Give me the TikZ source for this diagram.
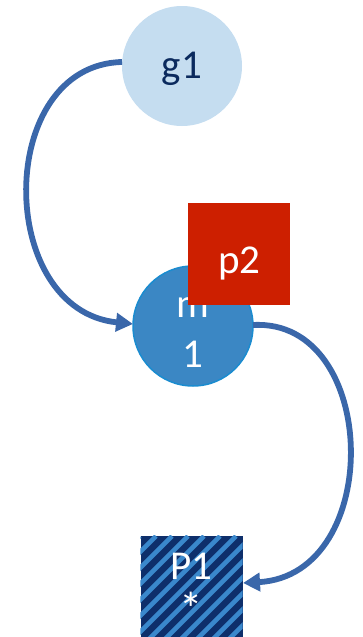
\documentclass[tikz,border=0pt]{standalone}
\usepackage{fontspec}
\setmainfont{Carlito}
\usetikzlibrary{arrows.meta}
\definecolor{linkblue}{HTML}{3A67AA}
\definecolor{paleblue}{HTML}{C5DDF0}
\definecolor{navytext}{HTML}{0B2A5E}
\definecolor{midblue}{HTML}{3B87C4}
\definecolor{rimblue}{HTML}{1A8CD0}
\definecolor{redbox}{HTML}{CD1F00}
\definecolor{darknavy}{HTML}{0E2F6B}
\definecolor{stripeblue}{HTML}{3A88CC}
\begin{document}
\begin{tikzpicture}[x=1pt,y=-1pt,
  link/.style={draw=linkblue,line width=5.8pt,-{Triangle[length=17pt,width=18pt]}},
  bigtext/.style={font=\fontsize{41}{50}\selectfont,align=center,inner sep=0pt,anchor=base},
  disc/.style={circle,minimum size=120pt,inner sep=0pt},
  tile/.style={rectangle,minimum size=102pt,inner sep=0pt}]
\useasboundingbox (0,0) rectangle (362,637);
% g1
\node[disc,fill=paleblue] (g1) at (182,66) {};
\node[bigtext,text=navytext] (g1text) at (182,78) {g1};
% m1 (anchored on the baseline of its last line)
\node[disc,fill=midblue,draw=rimblue,line width=1.5pt] (m1) at (193,326) {};
\node[bigtext,text=white] (m1text) at (193,367) {m\\1};
% P1 with diagonal stripes
\node[tile,fill=darknavy] (P1) at (191.5,586.5) {};
\begin{scope}
  \clip (P1.north west) rectangle (P1.south east);
  \foreach \i in {-120,-104,...,130}
    \draw[stripeblue,line width=4.6pt] (140+\i,640) -- (244+\i,536);
\end{scope}
\node[bigtext,text=white,font=\fontsize{41}{46}\selectfont] (P1text) at (191.5,625) {P1\\{\fontsize{47}{46}\selectfont *}};
% connectors
\coordinate (a1) at (122,62);
\coordinate (b1) at (133,324);
\coordinate (a2) at (253,325);
\coordinate (b2) at (243,583);
\draw[link] (a1) .. controls (-5,65) and (-5,310) .. (b1);
\draw[link] (a2) .. controls (380,318) and (385,575) .. (b2);
% p2 laid over the circle it overlaps
\node[tile,fill=redbox] (p2) at (239,254) {};
\node[bigtext,text=white] (p2text) at (239.5,273) {p2};
\end{tikzpicture}
\end{document}
